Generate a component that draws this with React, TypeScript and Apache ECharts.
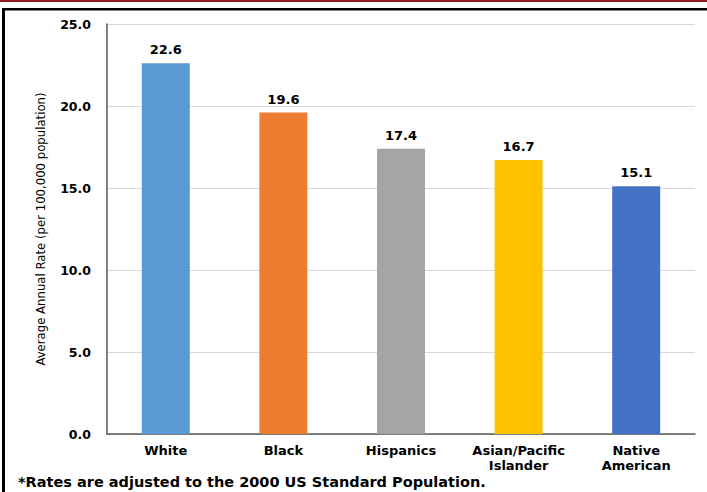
import React, { useEffect, useRef } from "react";
import * as echarts from "echarts";

const categories = ["White", "Black", "Hispanics", "Asian/Pacific\nIslander", "Native\nAmerican"];
const values = [22.6, 19.6, 17.4, 16.7, 15.1];
const colors = ["#5B9BD5", "#ED7D31", "#A5A5A5", "#FFC000", "#4472C4"];
const yTicks = { min: 0, max: 25, interval: 5 };
const yTitle = "Average Annual Rate (per 100,000 population)";
const footnote = "*Rates are adjusted to the 2000 US Standard Population.";

export default function App() {
  const ref = useRef<HTMLDivElement>(null);
  useEffect(() => {
    const chart = echarts.init(ref.current!, null, { renderer: "svg" });
    chart.setOption({
      animation: false,
      backgroundColor: "#ffffff",
      grid: { left: 107, right: 12, top: 24, bottom: 58, containLabel: false },
      xAxis: {
        type: "category",
        data: categories,
        axisLine: { lineStyle: { color: "#595959", width: 1.5 } },
        axisTick: { show: false },
        axisLabel: {
          interval: 0,
          color: "#000",
          fontFamily: "DejaVu Sans",
          fontWeight: "bold",
          fontSize: 13,
          margin: 9,
          lineHeight: 15,
        },
      },
      yAxis: {
        type: "value",
        min: yTicks.min,
        max: yTicks.max,
        interval: yTicks.interval,
        axisLine: { show: true, lineStyle: { color: "#595959", width: 1.5 } },
        axisTick: { show: false },
        splitLine: { lineStyle: { color: "#D9D9D9", width: 1 } },
        axisLabel: {
          color: "#000",
          fontFamily: "DejaVu Sans",
          fontWeight: "bold",
          fontSize: 12.5,
          margin: 16,
          formatter: (v: number) => v.toFixed(1),
        },
        name: yTitle,
        nameLocation: "middle",
        nameGap: 60,
        nameRotate: 90,
        nameTextStyle: {
          color: "#000",
          fontFamily: "'Liberation Sans Narrow', 'DejaVu Sans Condensed', sans-serif",
          fontSize: 13,
        },
      },
      series: [
        {
          type: "bar",
          data: values.map((v, i) => ({ value: v, itemStyle: { color: colors[i] } })),
          barWidth: 48,
          label: {
            show: true,
            position: "top",
            distance: 7,
            color: "#000",
            fontFamily: "DejaVu Sans",
            fontWeight: "bold",
            fontSize: 13,
            formatter: (p: any) => Number(p.value).toFixed(1),
          },
        },
      ],
      graphic: [
        { type: "rect", shape: { x: 0, y: 0, width: 707, height: 2 }, style: { fill: "#8B1A1A" } },
        { type: "rect", shape: { x: 3, y: 8, width: 704, height: 2.5 }, style: { fill: "#000" } },
        { type: "rect", shape: { x: 2, y: 8, width: 3, height: 484 }, style: { fill: "#000" } },
        {
          type: "text",
          left: 18,
          top: 474,
          style: {
            text: footnote,
            fill: "#000",
            font: "bold 14.5px 'DejaVu Sans'",
          },
        },
      ],
    });
    return () => chart.dispose();
  }, []);
  return <div ref={ref} style={{ position: "absolute", left: 0, top: 0, width: 707, height: 492 }} />;
}
